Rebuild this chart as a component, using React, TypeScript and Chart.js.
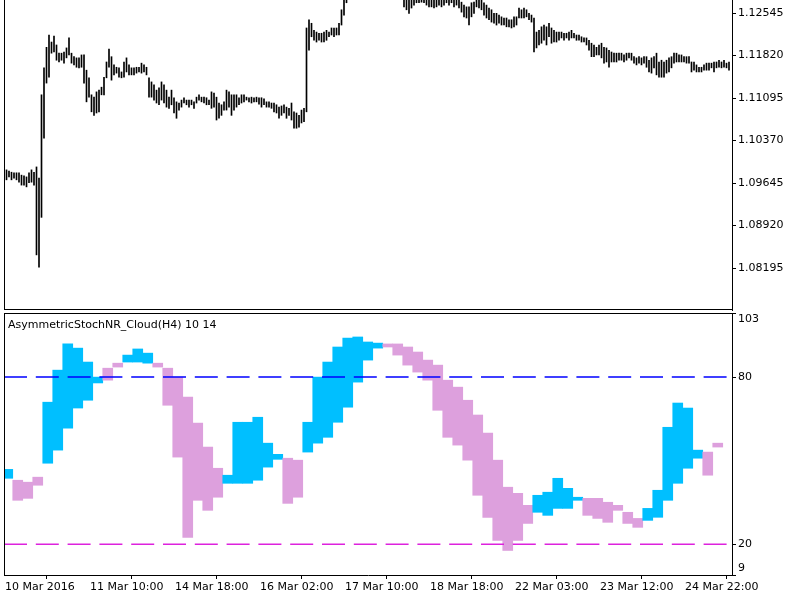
import React, { useEffect, useRef } from 'react';
import { Chart, registerables } from 'chart.js';

Chart.register(...registerables);

// ---- Price panel (H1 bars, high / low) ----
const priceHigh = [
  1.0987, 1.0987, 1.0985, 1.0983, 1.0982, 1.0982, 1.0982, 1.0978, 1.0977, 1.0975, 1.0982, 1.0987, 1.0983,
  1.0992, 1.0973, 1.1115, 1.1161, 1.1196, 1.1217, 1.1205, 1.1215,
  1.1200, 1.1186, 1.1186, 1.1188, 1.1195, 1.1212, 1.1186, 1.1180, 1.1178, 1.1178, 1.1183,
  1.1183, 1.1157, 1.1144, 1.1115, 1.1111, 1.1120, 1.1123, 1.1128, 1.1145, 1.1171, 1.1193,
  1.1180, 1.1166, 1.1162, 1.1161, 1.1154, 1.1171, 1.1178, 1.1166, 1.1161, 1.1161, 1.1162, 1.1162, 1.1169, 1.1166, 1.1162,
  1.1144, 1.1137, 1.1132, 1.1123, 1.1127, 1.1137, 1.1132, 1.1123, 1.1111, 1.1123, 1.1110, 1.1103,
  1.1101, 1.1106, 1.1110, 1.1106, 1.1106, 1.1106, 1.1103, 1.1111, 1.1115, 1.1111, 1.1111, 1.1110, 1.1106,
  1.1120, 1.1118, 1.1111, 1.1101, 1.1098, 1.1103, 1.1123, 1.1120, 1.1115, 1.1115, 1.1115, 1.1110, 1.1115,
  1.1115, 1.1111, 1.1110, 1.1111, 1.1110, 1.1111, 1.1110, 1.1110, 1.1108, 1.1103, 1.1103, 1.1101, 1.1101,
  1.1098, 1.1094, 1.1096, 1.1098, 1.1094, 1.1092, 1.1101, 1.1086, 1.1084, 1.1080, 1.1089, 1.1092,
  1.1229, 1.1243, 1.1237, 1.1225, 1.1222, 1.1220, 1.1220, 1.1222, 1.1225, 1.1222, 1.1229, 1.1229, 1.1229, 1.1237, 1.1260, 1.1285, 1.1294,
  1.1302, 1.1308, 1.1311, 1.1316, 1.1313, 1.1320, 1.1324, 1.1318, 1.1314, 1.1310, 1.1312, 1.1306, 1.1303, 1.1308, 1.1311, 1.1305, 1.1300, 1.1304, 1.1298, 1.1296, 1.1299, 1.1295,
  1.1282, 1.1280, 1.1283, 1.1282, 1.1287, 1.1290, 1.1290, 1.1294, 1.1287, 1.1285, 1.1283, 1.1283, 1.1282, 1.1283, 1.1287, 1.1283, 1.1287, 1.1290, 1.1287, 1.1290, 1.1283, 1.1285, 1.1282,
  1.1273, 1.1268, 1.1265, 1.1265, 1.1272, 1.1273, 1.1282, 1.1280, 1.1277, 1.1272, 1.1268, 1.1263, 1.1260, 1.1254, 1.1254, 1.1251, 1.1248, 1.1246, 1.1246, 1.1243, 1.1243, 1.1248, 1.1248,
  1.1263, 1.1260, 1.1263, 1.1260, 1.1254, 1.1251,
  1.1246, 1.1222, 1.1225, 1.1231, 1.1234, 1.1231, 1.1237, 1.1229, 1.1225, 1.1222, 1.1222, 1.1222, 1.1220, 1.1220, 1.1222, 1.1225, 1.1220, 1.1217, 1.1217, 1.1214, 1.1212, 1.1212,
  1.1208, 1.1203, 1.1200, 1.1196, 1.1200, 1.1203, 1.1196, 1.1195, 1.1191, 1.1188, 1.1186, 1.1186, 1.1186, 1.1186, 1.1183, 1.1186, 1.1186, 1.1186,
  1.1180, 1.1178, 1.1180, 1.1178, 1.1180, 1.1180, 1.1174, 1.1178, 1.1180, 1.1186, 1.1171, 1.1174, 1.1171, 1.1174, 1.1178, 1.1180, 1.1186, 1.1186, 1.1183, 1.1183, 1.1180, 1.1180, 1.1180,
  1.1171, 1.1171, 1.1166, 1.1162, 1.1162, 1.1166, 1.1169, 1.1169, 1.1169, 1.1171, 1.1171, 1.1174, 1.1171, 1.1174, 1.1169, 1.1171,
];

const priceLow = [
  1.0970, 1.0970, 1.0975, 1.0970, 1.0973, 1.0970, 1.0966, 1.0961, 1.0961, 1.0958, 1.0965, 1.0966, 1.0961,
  1.0842, 1.0821, 1.0906, 1.1041, 1.1135, 1.1145, 1.1186, 1.1188,
  1.1174, 1.1171, 1.1174, 1.1169, 1.1178, 1.1183, 1.1169, 1.1166, 1.1162, 1.1161, 1.1162,
  1.1135, 1.1103, 1.1111, 1.1086, 1.1080, 1.1084, 1.1086, 1.1115, 1.1115, 1.1144, 1.1162,
  1.1140, 1.1149, 1.1152, 1.1145, 1.1144, 1.1145, 1.1154, 1.1149, 1.1149, 1.1149, 1.1152, 1.1154, 1.1152, 1.1154, 1.1149,
  1.1111, 1.1111, 1.1106, 1.1101, 1.1098, 1.1106, 1.1101, 1.1094, 1.1092, 1.1098, 1.1084, 1.1075,
  1.1089, 1.1094, 1.1101, 1.1098, 1.1094, 1.1098, 1.1092, 1.1101, 1.1106, 1.1103, 1.1101, 1.1098, 1.1098,
  1.1092, 1.1094, 1.1072, 1.1075, 1.1080, 1.1089, 1.1089, 1.1094, 1.1080, 1.1089, 1.1094, 1.1098, 1.1101,
  1.1103, 1.1106, 1.1103, 1.1101, 1.1103, 1.1103, 1.1099, 1.1094, 1.1098, 1.1094, 1.1094, 1.1092, 1.1086,
  1.1084, 1.1075, 1.1080, 1.1084, 1.1075, 1.1080, 1.1072, 1.1058, 1.1058, 1.1060, 1.1067, 1.1069,
  1.1086, 1.1191, 1.1214, 1.1208, 1.1205, 1.1208, 1.1205, 1.1205, 1.1208, 1.1214, 1.1217, 1.1214, 1.1217, 1.1217, 1.1234, 1.1251, 1.1272,
  1.1281, 1.1290, 1.1294, 1.1298, 1.1296, 1.1301, 1.1305, 1.1300, 1.1297, 1.1292, 1.1295, 1.1289, 1.1286, 1.1290, 1.1293, 1.1288, 1.1284, 1.1287, 1.1282, 1.1280, 1.1283, 1.1279,
  1.1265, 1.1260, 1.1254, 1.1263, 1.1268, 1.1272, 1.1272, 1.1273, 1.1272, 1.1268, 1.1265, 1.1265, 1.1263, 1.1265, 1.1268, 1.1265, 1.1268, 1.1272, 1.1268, 1.1272, 1.1265, 1.1268, 1.1263,
  1.1256, 1.1248, 1.1246, 1.1234, 1.1248, 1.1254, 1.1265, 1.1263, 1.1260, 1.1251, 1.1246, 1.1243, 1.1239, 1.1237, 1.1234, 1.1237, 1.1234, 1.1234, 1.1231, 1.1231, 1.1229, 1.1231, 1.1234,
  1.1246, 1.1246, 1.1246, 1.1248, 1.1243, 1.1239,
  1.1188, 1.1195, 1.1200, 1.1203, 1.1208, 1.1200, 1.1214, 1.1203, 1.1205, 1.1205, 1.1208, 1.1212, 1.1208, 1.1212, 1.1208, 1.1212, 1.1212, 1.1208, 1.1208, 1.1205, 1.1205, 1.1200,
  1.1191, 1.1180, 1.1180, 1.1183, 1.1183, 1.1178, 1.1169, 1.1171, 1.1162, 1.1171, 1.1171, 1.1171, 1.1174, 1.1174, 1.1171, 1.1174, 1.1178, 1.1174,
  1.1169, 1.1166, 1.1169, 1.1166, 1.1169, 1.1162, 1.1154, 1.1152, 1.1161, 1.1149, 1.1145, 1.1145, 1.1145, 1.1152, 1.1154, 1.1161, 1.1169, 1.1171, 1.1171, 1.1171, 1.1171, 1.1169, 1.1169,
  1.1154, 1.1157, 1.1154, 1.1154, 1.1154, 1.1157, 1.1157, 1.1157, 1.1161, 1.1154, 1.1161, 1.1162, 1.1161, 1.1162, 1.1161, 1.1157,
];

const priceTicks = [1.08195, 1.0892, 1.09645, 1.1037, 1.11095, 1.1182, 1.12545];
const priceMin = 1.0748;
const priceMax = 1.12767;

// ---- Time axis (H1 bar index of each label) ----
const timeLabelIdx = [0, 34, 68, 102, 136, 170, 204, 238, 272];
const timeLabels = [
  '10 Mar 2016', '11 Mar 10:00', '14 Mar 18:00', '16 Mar 02:00', '17 Mar 10:00',
  '18 Mar 18:00', '22 Mar 03:00', '23 Mar 12:00', '24 Mar 22:00',
];
const xMax = 291.2;

// ---- Indicator (one value per H4 bar) ----
const stochMain = [
  46.9, 35.8, 36.5, 41.2, 71.0, 82.5, 91.9, 90.4, 85.4, 80.0,
  78.9, 83.6, 87.9, 90.1, 88.6, 83.6, 69.9, 51.3, 22.5, 35.8,
  32.2, 36.9, 44.8, 63.8, 63.8, 65.6, 56.3, 52.3, 34.7, 36.9,
  63.8, 80.0, 85.4, 90.8, 94.0, 94.4, 92.6, 92.2, 90.8, 87.9,
  84.3, 81.8, 78.9, 68.1, 58.4, 55.6, 50.2, 37.6, 29.7, 21.4,
  17.8, 21.4, 27.5, 37.6, 38.7, 43.7, 40.1, 36.9, 30.4, 29.3,
  27.9, 32.2, 27.5, 26.1, 32.9, 39.4, 62.0, 70.7, 68.9, 53.8,
  44.8, 54.9, null,
];
const stochSignal = [
  43.7, 43.0, 42.3, 44.1, 49.1, 53.8, 61.7, 68.9, 71.7, 77.9,
  83.2, 85.0, 85.4, 85.4, 85.0, 85.0, 83.2, 80.0, 72.8, 63.5,
  54.9, 47.3, 41.9, 41.9, 41.9, 43.0, 47.7, 50.5, 50.9, 50.2,
  53.1, 56.3, 58.4, 63.8, 69.2, 78.2, 86.1, 90.4, 91.9, 91.9,
  90.8, 89.0, 86.1, 84.3, 78.9, 76.4, 71.7, 66.4, 59.9, 50.2,
  40.5, 38.3, 34.0, 31.5, 30.4, 32.9, 32.9, 35.8, 36.5, 36.5,
  35.1, 34.0, 31.5, 29.3, 28.6, 29.7, 35.8, 41.9, 47.3, 50.9,
  53.1, 56.3, null,
];
const levels = [80, 20];
const levelColors = ['#0000ff', '#dd22dd'];
const oscTicks = [9, 20, 80, 103];
const indicatorName = 'AsymmetricStochNR_Cloud(H4) 10 14';
const upColor = '#00BFFF';
const downColor = '#DDA0DD';

Chart.defaults.font.family = '"DejaVu Sans", sans-serif';
Chart.defaults.font.size = 11;
Chart.defaults.color = '#000';

const framePlugin = {
  id: 'frame',
  afterDraw(chart: any, _args: any, opts: any) {
    const { ctx, chartArea: a } = chart;
    ctx.save();
    ctx.strokeStyle = '#000';
    ctx.lineWidth = 1;
    ctx.beginPath();
    const L = Math.round(a.left) + 0.5;
    const T = Math.round(a.top) + 0.5;
    const B = Math.round(a.bottom) - 0.5;
    if (opts.left) { ctx.moveTo(L, a.top); ctx.lineTo(L, a.bottom); }
    if (opts.top) { ctx.moveTo(a.left, T); ctx.lineTo(a.right, T); }
    if (opts.bottom) { ctx.moveTo(a.left, B); ctx.lineTo(a.right, B); }
    ctx.stroke();
    if (opts.title) {
      ctx.fillStyle = '#000';
      ctx.font = '11px "DejaVu Sans", sans-serif';
      ctx.textBaseline = 'middle';
      ctx.textAlign = 'left';
      ctx.fillText(opts.title, a.left + 4, a.top + 12);
    }
    ctx.restore();
  },
};

const axisGrid = { drawOnChartArea: false, color: '#000', tickLength: 4 };

export default function App() {
  const topRef = useRef<HTMLCanvasElement>(null);
  const botRef = useRef<HTMLCanvasElement>(null);

  useEffect(() => {
    const priceData = priceHigh.map((h, i) => ({ x: i, y: [priceLow[i], h] }));
    const topChart = new Chart(topRef.current as HTMLCanvasElement, {
      type: 'bar',
      data: {
        datasets: [
          { data: priceData as any, backgroundColor: '#000', barThickness: 1 },
        ],
      },
      options: {
        responsive: true,
        maintainAspectRatio: false,
        animation: false,
        events: [],
        layout: { padding: { left: 4, top: 0, right: 0, bottom: 2 } },
        plugins: {
          legend: { display: false },
          tooltip: { enabled: false },
          frame: { left: true, bottom: true },
        } as any,
        scales: {
          x: { type: 'linear', min: 0, max: xMax, offset: false, display: false },
          y: {
            position: 'right',
            min: priceMin,
            max: priceMax,
            afterBuildTicks: (s: any) => { s.ticks = priceTicks.map((v) => ({ value: v })); },
            afterFit: (s: any) => { s.width = 68; s.paddingTop = 0; s.paddingBottom = 0; },
            ticks: { callback: (v: any) => Number(v).toFixed(5), padding: 2, color: '#000' },
            grid: axisGrid,
            border: { color: '#000' },
          },
        } as any,
      },
      plugins: [framePlugin],
    });

    const cloudData: any[] = [];
    const cloudColors: string[] = [];
    stochMain.forEach((m, k) => {
      const s = stochSignal[k];
      if (m == null || s == null) return;
      cloudData.push({ x: 4 * k + 1.5, y: [Math.min(m, s), Math.max(m, s)] });
      cloudColors.push(m >= s ? upColor : downColor);
    });

    const levelSets = levels.map((lv, j) => ({
      type: 'line',
      data: [{ x: 0, y: lv }, { x: xMax, y: lv }],
      borderColor: levelColors[j],
      borderWidth: 1.5,
      borderDash: [23, 8.8],
      pointRadius: 0,
      order: 0,
    }));

    const botChart = new Chart(botRef.current as HTMLCanvasElement, {
      type: 'bar',
      data: {
        datasets: [
          ...(levelSets as any[]),
          {
            type: 'bar',
            data: cloudData,
            backgroundColor: cloudColors,
            barPercentage: 1,
            categoryPercentage: 1,
            order: 1,
          },
        ],
      },
      options: {
        responsive: true,
        maintainAspectRatio: false,
        animation: false,
        events: [],
        layout: { padding: { left: 4, top: 1, right: 0, bottom: 0 } },
        plugins: {
          legend: { display: false },
          tooltip: { enabled: false },
          frame: { left: true, top: true, title: indicatorName },
        } as any,
        scales: {
          x: {
            type: 'linear',
            min: 0,
            max: xMax,
            offset: false,
            position: 'bottom',
            afterBuildTicks: (s: any) => { s.ticks = timeLabelIdx.map((v) => ({ value: v })); },
            afterFit: (s: any) => { s.height = 25; s.paddingLeft = 0; s.paddingRight = 0; },
            ticks: {
              autoSkip: false,
              maxRotation: 0,
              minRotation: 0,
              align: 'start',
              labelOffset: 1,
              padding: 2,
              color: '#000',
              callback: (v: any) => {
                const j = timeLabelIdx.indexOf(v);
                return j >= 0 ? timeLabels[j] : '';
              },
            },
            grid: axisGrid,
            border: { color: '#000' },
          },
          y: {
            position: 'right',
            min: oscTicks[0],
            max: oscTicks[oscTicks.length - 1],
            afterBuildTicks: (s: any) => { s.ticks = oscTicks.map((v) => ({ value: v })); },
            afterFit: (s: any) => { s.width = 68; s.paddingTop = 0; s.paddingBottom = 0; },
            ticks: {
              padding: 2,
              color: '#000',
              callback: (v: any) => {
                if (v === oscTicks[oscTicks.length - 1]) return ['', String(v)];
                if (v === oscTicks[0]) return [String(v), ''];
                return String(v);
              },
            },
            grid: axisGrid,
            border: { color: '#000' },
          },
        } as any,
      },
      plugins: [framePlugin],
    });

    return () => {
      topChart.destroy();
      botChart.destroy();
    };
  }, []);

  return (
    <div style={{ position: 'fixed', left: 0, top: 0, width: 800, height: 600, background: '#fff' }}>
      <div style={{ position: 'absolute', left: 0, top: 0, width: 800, height: 312 }}>
        <canvas ref={topRef} />
      </div>
      <div style={{ position: 'absolute', left: 0, top: 312, width: 800, height: 288 }}>
        <canvas ref={botRef} />
      </div>
    </div>
  );
}
